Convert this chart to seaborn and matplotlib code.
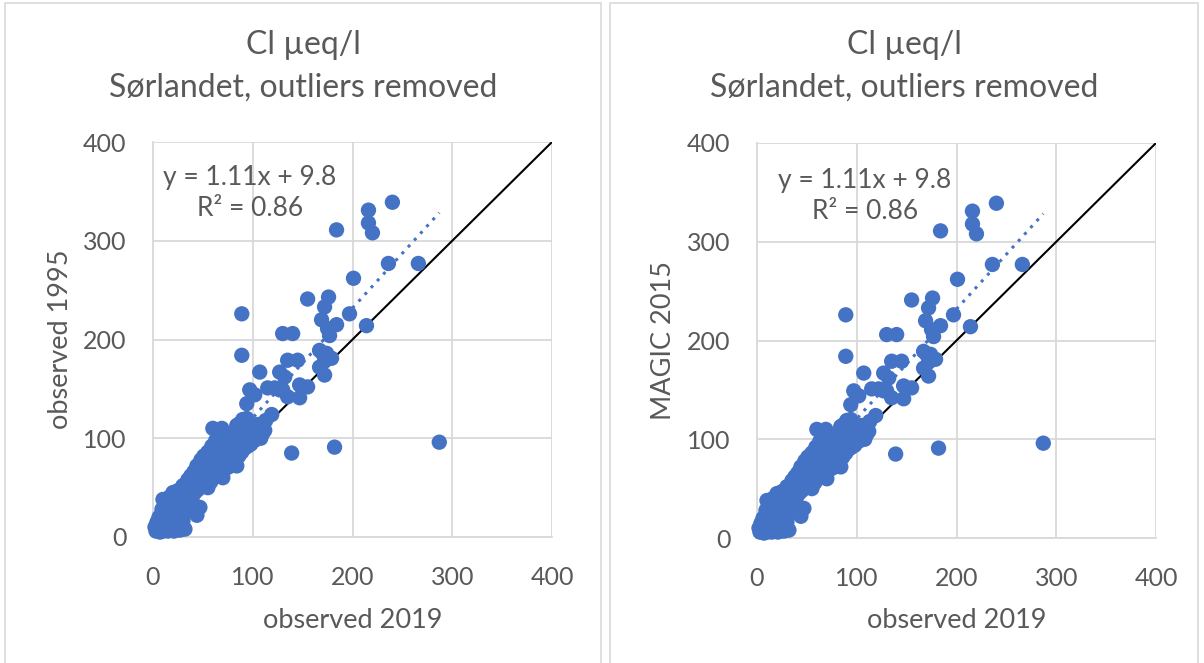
import matplotlib
matplotlib.use("Agg")
import matplotlib.pyplot as plt
from matplotlib.patches import Rectangle
import seaborn as sns
import pandas as pd
import numpy as np

# Chloride concentrations (µeq/l), Sørlandet lakes, outliers removed
obs_2019 = [
    287, 182, 139, 89, 89, 184, 216, 216, 220, 240, 236, 266, 201, 155, 176, 172, 169, 175, 184, 177, 197, 214,
    130, 140, 135, 145, 174, 179, 170, 167, 172, 167, 172,
    107, 127, 132, 97, 102, 94, 115, 122, 130, 135, 147, 155, 147, 119, 112, 60, 69, 94, 87, 99, 84, 90, 95,
    107, 110, 127,
    2, 3, 4, 5, 6, 7, 8, 9, 10, 10, 11, 12, 13, 14, 15, 15, 16, 17, 18, 19, 20, 20, 21, 22, 23, 24, 25, 26,
    27, 28, 29, 30, 30, 31, 32, 33, 34, 35, 36, 37, 38, 39, 40,
    41, 42, 43, 44, 45, 47, 44, 46, 48, 49, 50, 51, 52, 53, 55, 55, 56, 57, 58, 59, 60, 61, 62, 63, 64, 65,
    66, 67, 68, 69, 70, 71, 72, 73, 74, 75, 76, 77, 78, 79, 80, 81, 82, 83, 84, 85, 86, 87, 88, 89, 90, 91,
    92, 93, 95, 96, 97, 98, 100, 102, 104, 105, 108, 110, 113,
]
obs_1995 = [
    96, 91, 85, 226, 184, 311, 331, 318, 308, 339, 277, 277, 262, 241, 243, 233, 220, 211, 215, 204, 226, 214,
    206, 206, 179, 179, 186, 181, 186, 172, 164, 189, 178,
    167, 167, 162, 149, 144, 135, 151, 151, 149, 142, 154, 152, 141, 124, 108, 110, 110, 120, 115, 109, 113, 119, 108,
    112, 105, 149,
    10, 6, 15, 8, 20, 5, 12, 28, 38, 6, 17, 9, 25, 33, 6, 14, 40, 22, 8, 30, 45, 16, 6, 24, 36, 12, 47, 20,
    7, 30, 42, 16, 52, 24, 8, 36, 48, 58, 28, 44, 62, 38, 52,
    66, 45, 58, 72, 48, 30, 22, 62, 78, 54, 68, 82, 60, 74, 50, 86, 66, 78, 56, 92, 70, 84, 62, 98, 76, 88,
    68, 102, 80, 92, 60, 74, 86, 98, 70, 80, 92, 104, 72, 86, 96, 78, 106, 90, 72, 100, 82, 94, 104, 86, 98, 110,
    90, 100, 92, 112, 102, 94, 106, 98, 114, 104, 100, 112, 118,
]
# MAGIC model values for 2015
magic_2015 = list(obs_1995)

# Linear trend fitted in the spreadsheet
trend_slope = 1.11
trend_intercept = 9.8
trend_r2 = 0.86

axis_ticks = [0, 100, 200, 300, 400]
title_lines = ["Cl µeq/l", "Sørlandet, outliers removed"]
x_label = "observed 2019"
y_labels = ["observed 1995", "MAGIC 2015"]

BLUE = "#4472C4"
GRID = "#D9D9D9"
TEXT = "#595959"
FONT = "Lato"

sns.set_theme(style="white")
plt.rcParams["font.family"] = [FONT, "DejaVu Sans"]

fig = plt.figure(figsize=(12.04, 6.63), dpi=100)
W, H = 1204, 663

def fx(px):
    return px / W

def fy(py):
    return 1 - py / H

# Chart frames
for (l, r) in [(5, 601), (610, 1198)]:
    fig.patches.append(Rectangle((fx(l), -0.02), fx(r) - fx(l), fy(3) + 0.02,
                                 transform=fig.transFigure, fill=False,
                                 edgecolor=GRID, linewidth=1.2, zorder=0))

panels = [
    dict(ax=(153, 552, 142, 537), y=obs_1995, ylab=y_labels[0], eq=(97, 364, 333), center=303, ylab_x=60),
    dict(ax=(757, 1156, 143, 538), y=magic_2015, ylab=y_labels[1], eq=(108, 362, 331), center=904, ylab_x=664),
]

for p in panels:
    l, r, t, b = p["ax"]
    ax = fig.add_axes([fx(l), fy(b), fx(r) - fx(l), fy(t) - fy(b)])
    df = pd.DataFrame({"x": obs_2019, "y": p["y"]})

    # 1:1 line
    ax.plot([0, 400], [0, 400], color="black", linewidth=1.5, zorder=2)

    sns.scatterplot(data=df, x="x", y="y", ax=ax, color=BLUE, s=122,
                    edgecolor="none", linewidth=0, zorder=3, clip_on=False, legend=False)

    # Trendline from the stated equation, across the data range
    xs = np.array([min(obs_2019), max(obs_2019)])
    ax.plot(xs, trend_slope * xs + trend_intercept, color=BLUE, linestyle=(0, (1, 2)),
            linewidth=2.2, zorder=4)

    ax.set_xlim(0, 400)
    ax.set_ylim(0, 400)
    ax.set_xticks(axis_ticks)
    ax.set_yticks(axis_ticks)
    ax.grid(True, color=GRID, linewidth=1.3)
    ax.set_axisbelow(True)
    for side in ["top", "right"]:
        ax.spines[side].set_visible(False)
    for side in ["left", "bottom"]:
        ax.spines[side].set_color(GRID)
        ax.spines[side].set_linewidth(1.3)
    ax.tick_params(axis="both", length=0, labelsize=18, labelcolor=TEXT)
    ax.tick_params(axis="x", pad=21)
    ax.tick_params(axis="y", pad=19)
    ax.set_xlabel("")
    ax.set_ylabel("")

    ex, ey1, ey2 = p["eq"]
    ax.text(ex, ey1, f"y = {trend_slope:.2f}x + {trend_intercept:.1f}", ha="center", va="center",
            fontsize=19, color=TEXT)
    ax.text(ex, ey2, f"R² = {trend_r2:.2f}", ha="center", va="center", fontsize=19, color=TEXT)

    fig.text(fx((l + r) / 2), fy(620), x_label, ha="center", va="center", fontsize=19.5, color=TEXT)
    fig.text(fx(p["ylab_x"]), fy((t + b) / 2), p["ylab"], ha="center", va="center",
             rotation=90, fontsize=19.5, color=TEXT)
    fig.text(fx(p["center"]), fy(45), title_lines[0], ha="center", va="center", fontsize=23, color=TEXT)
    fig.text(fx(p["center"]), fy(88), title_lines[1], ha="center", va="center", fontsize=23, color=TEXT)

fig.savefig("out.png", dpi=100, facecolor="white")
